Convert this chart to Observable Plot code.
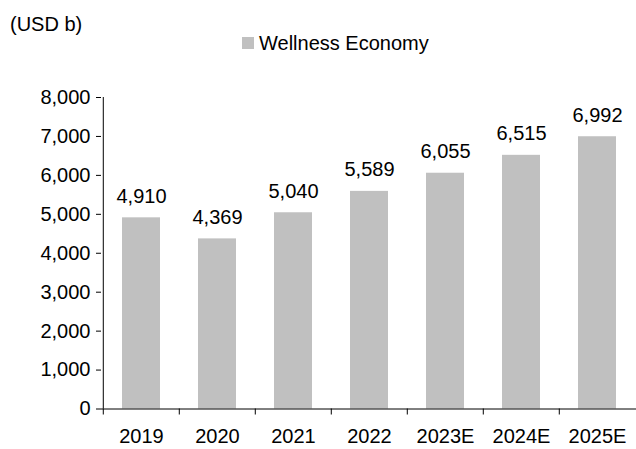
<!DOCTYPE html>
<html>
<head>
<meta charset="utf-8">
<script src="https://cdn.jsdelivr.net/npm/d3@7"></script>
<script src="https://cdn.jsdelivr.net/npm/@observablehq/plot@0.6"></script>
<style>
  html, body { margin: 0; padding: 0; background: #fff; }
  body { font-family: "Liberation Sans", Arial, sans-serif; color: #000; }
  #wrap { width: 636px; }
  #head { position: relative; height: 60px; font-size: 20px; line-height: 20px; }
  #unit { position: absolute; left: 10px; top: 14px; white-space: nowrap; }
  #legend { position: absolute; left: 242px; top: 33px; white-space: nowrap; }
  #legend .sw { position: absolute; left: 0; top: 4px; width: 12px; height: 12px; background: #c0c0c0; }
  #legend .lb { position: absolute; left: 17px; top: 0; }
  svg { display: block; }
</style>
</head>
<body>
<div id="wrap">
  <div id="head">
    <div id="unit"></div>
    <div id="legend"><span class="sw"></span><span class="lb"></span></div>
  </div>
  <div id="chart"></div>
</div>
<script>
const unitLabel = "(USD b)";
const seriesName = "Wellness Economy";
const years = ["2019", "2020", "2021", "2022", "2023E", "2024E", "2025E"];
const values = [4910, 4369, 5040, 5589, 6055, 6515, 6992];
const yTicks = [0, 1000, 2000, 3000, 4000, 5000, 6000, 7000, 8000];

document.getElementById("unit").textContent = unitLabel;
document.querySelector("#legend .lb").textContent = seriesName;

const W = 636, H = 389, mL = 101, mR = 0, mT = 37, mB = 40.5;
const step = (W - mL - mR) / years.length;
const fmt = d3.format(",");
const data = years.map((y, i) => ({year: y, value: values[i]}));

const chart = Plot.plot({
  width: W,
  height: H,
  marginLeft: mL,
  marginRight: mR,
  marginTop: mT,
  marginBottom: mB,
  style: {fontFamily: "'Liberation Sans', Arial, sans-serif", fontSize: "20px", color: "#000", background: "#fff", overflow: "visible"},
  x: {domain: years, paddingInner: 0.5, paddingOuter: 0.25, align: 0.5},
  y: {domain: [yTicks[0], yTicks[yTicks.length - 1]]},
  marks: [
    Plot.barY(data, {x: "year", y: "value", fill: "#c0c0c0"}),
    Plot.text(data, {x: "year", y: "value", text: d => fmt(d.value), lineAnchor: "bottom", dy: -15, fill: "#000", fontSize: 20}),
    Plot.ruleY([yTicks[0]], {stroke: "#000", strokeWidth: 1}),
    Plot.ruleX([years[0]], {y1: yTicks[0], y2: yTicks[yTicks.length - 1], dx: -step / 2, stroke: "#000", strokeWidth: 1}),
    Plot.axisY({ticks: yTicks, tickSize: 5, tickPadding: 6, tickFormat: fmt, label: null, anchor: "left", fontSize: 20, stroke: "#000", fill: "#000"}),
    Plot.axisX({tickSize: 0, tickPadding: 20, label: null, fontSize: 20, fill: "#000"}),
    Plot.axisX({tickSize: 6, tickFormat: () => "", dx: -step / 2, label: null, stroke: "#000"})
  ]
});
document.getElementById("chart").appendChild(chart);
</script>
</body>
</html>
